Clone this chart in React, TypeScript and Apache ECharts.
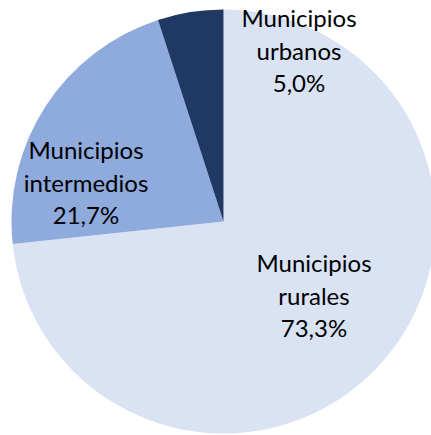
import React, { useEffect, useRef } from "react";
import * as echarts from "echarts";

const categories = ["Municipios rurales", "Municipios intermedios", "Municipios urbanos"];
const shares = [73.3, 21.7, 5.0];
const colors = ["#DAE3F3", "#8FAADC", "#203864"];

// label centres (layout only)
const labelPos = [
  [314, 295],
  [86, 182],
  [299, 50],
];

export default function App() {
  const ref = useRef<HTMLDivElement>(null);
  useEffect(() => {
    if (!ref.current) return;
    const chart = echarts.init(ref.current, null, { renderer: "svg" });
    chart.setOption({
      animation: false,
      backgroundColor: "#ffffff",
      series: [
        {
          type: "pie",
          center: [223.5, 221.5],
          radius: 212,
          startAngle: 90,
          clockwise: true,
          avoidLabelOverlap: false,
          emphasis: { disabled: true },
          itemStyle: { borderWidth: 0 },
          labelLine: { show: false },
          label: {
            show: true,
            position: "inside",
            color: "#000000",
            fontFamily: "Lato",
            fontSize: 24,
            lineHeight: 32.5,
            align: "center",
            formatter: (p: any) =>
              p.name.replace(" ", "\n") + "\n" + shares[p.dataIndex].toFixed(1).replace(".", ",") + "%",
          },
          labelLayout: (p: any) => ({
            x: labelPos[p.dataIndex][0],
            y: labelPos[p.dataIndex][1],
            align: "center",
            verticalAlign: "middle",
          }),
          data: categories.map((c, i) => ({
            name: c,
            value: shares[i],
            itemStyle: { color: colors[i] },
          })),
        },
      ],
    });
    return () => chart.dispose();
  }, []);
  return (
    <div
      ref={ref}
      style={{ position: "absolute", left: 0, top: 0, width: 431, height: 435 }}
    />
  );
}
